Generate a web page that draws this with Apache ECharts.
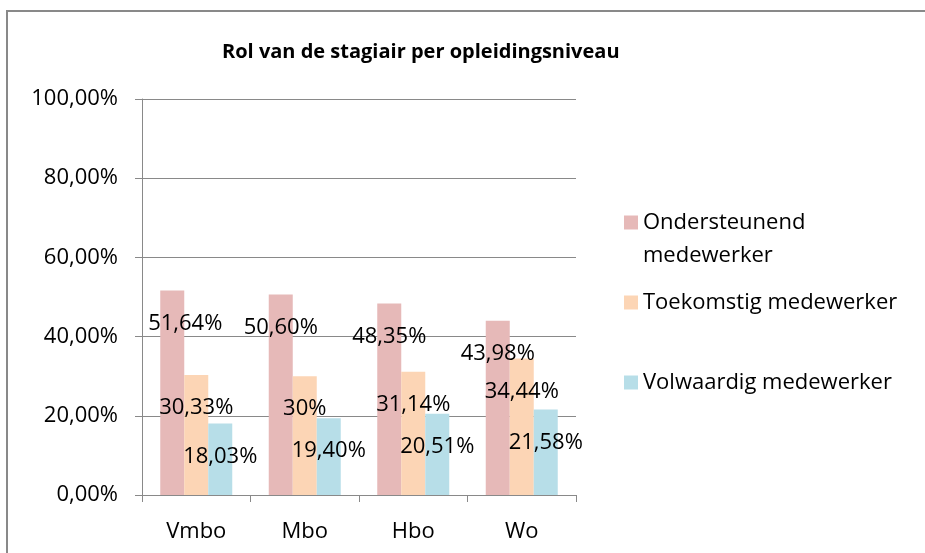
<!DOCTYPE html>
<html>
<head>
<meta charset="utf-8">
<script src="https://cdn.jsdelivr.net/npm/echarts@6/dist/echarts.min.js"></script>
<style>
  html, body { margin: 0; padding: 0; background: #fff; }
  #main { width: 925px; height: 553px; }
</style>
</head>
<body>
<div id="main"></div>
<script>
const categories = ['Vmbo', 'Mbo', 'Hbo', 'Wo']
const seriesNames = ['Ondersteunend medewerker', 'Toekomstig medewerker', 'Volwaardig medewerker']
const ondersteunend = [51.64, 50.60, 48.35, 43.98]
const toekomstig = [30.33, 30, 31.14, 34.44]
const volwaardig = [18.03, 19.40, 20.51, 21.58]
const colors = ['#E6B9B8', '#FCD5B5', '#B7DEE8']

const font = "'Open Sans', 'Noto Sans', sans-serif"
const gray = '#898989'

const fmtPct = (v) => (Number.isInteger(v) ? v + '' : v.toFixed(2).replace('.', ',')) + '%'

const makeSeries = (name, values, color, idx) => ({
  name: name,
  type: 'bar',
  barWidth: 24,
  barGap: '0%',
  itemStyle: { color: color },
  label: {
    show: true,
    position: 'insideTop',
    distance: 22,
    color: '#000',
    fontFamily: font,
    fontSize: 22,
    formatter: (p) => fmtPct(p.value)
  },
  // first label sits a bit to the right in the original
  data: values.map((v, i) => (idx === 0 && i === 0 ? { value: v, label: { offset: [13, 0] } } : v))
})

const legendBase = {
  orient: 'vertical',
  left: 619,
  itemWidth: 14,
  itemHeight: 14,
  icon: 'rect',
  selectedMode: false,
  textStyle: { fontFamily: font, fontSize: 22, color: '#000', lineHeight: 33 }
}

const chart = echarts.init(document.getElementById('main'))
chart.setOption({
  animation: false,
  title: {
    text: 'Rol van de stagiair per opleidingsniveau',
    left: 217,
    top: 37,
    textStyle: { fontFamily: font, fontSize: 20, fontWeight: 'bold', color: '#000' }
  },
  legend: [
    Object.assign({}, legendBase, {
      top: 168,
      data: [seriesNames[0]],
      // empty first line keeps the icon level with "Ondersteunend"
      formatter: () => ' \nOndersteunend\nmedewerker'
    }),
    Object.assign({}, legendBase, { top: 281, data: [seriesNames[1]] }),
    Object.assign({}, legendBase, { top: 361, data: [seriesNames[2]] })
  ],
  grid: { left: 142, right: 349, top: 99, bottom: 58, containLabel: false },
  xAxis: {
    type: 'category',
    data: categories,
    axisLine: { lineStyle: { color: gray, width: 1 } },
    axisTick: { show: true, length: 7, lineStyle: { color: gray } },
    axisLabel: { color: '#000', fontFamily: font, fontSize: 22, margin: 26 }
  },
  yAxis: {
    type: 'value',
    min: 0,
    max: 100,
    interval: 20,
    axisLine: { show: true, lineStyle: { color: gray, width: 1 } },
    axisTick: { show: true, length: 7, lineStyle: { color: gray } },
    splitLine: { lineStyle: { color: gray, width: 1 } },
    axisLabel: {
      color: '#000',
      fontFamily: font,
      fontSize: 22,
      margin: 24,
      formatter: (v) => v.toFixed(2).replace('.', ',') + '%'
    }
  },
  graphic: [{
    type: 'rect',
    shape: { x: 7, y: 11, width: 1000, height: 1000 },
    style: { fill: 'none', stroke: gray, lineWidth: 2 },
    silent: true
  }],
  series: [
    makeSeries(seriesNames[0], ondersteunend, colors[0], 0),
    makeSeries(seriesNames[1], toekomstig, colors[1], 1),
    makeSeries(seriesNames[2], volwaardig, colors[2], 2)
  ]
})
</script>
</body>
</html>
